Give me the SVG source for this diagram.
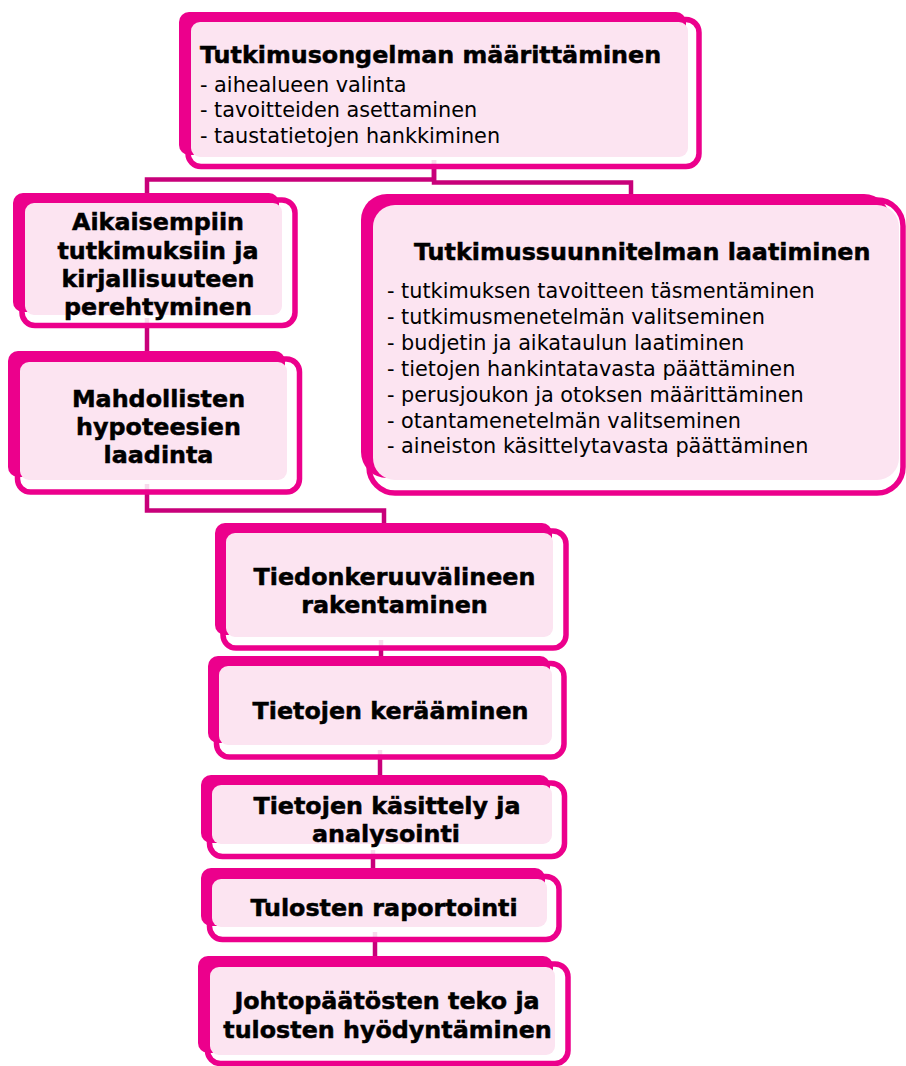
<svg xmlns="http://www.w3.org/2000/svg" width="906" height="1066" viewBox="0 0 906 1066">
<style>
.ol{fill:#ffffff;fill-opacity:0.86;stroke:#EC008C;stroke-width:5.5}
.bk{fill:#EC008C}
.pk{fill:#FCE4F1}
.cn{fill:none;stroke:#C8007A;stroke-width:4.5}
.b{font-family:"DejaVu Sans",Verdana,sans-serif;font-weight:bold;font-size:23.8px;fill:#000;stroke:#000;stroke-width:0.5}
.bc{font-family:"DejaVu Sans",Verdana,sans-serif;font-weight:bold;font-size:23.8px;fill:#000;stroke:#000;stroke-width:0.5;text-anchor:middle}
.r{font-family:"DejaVu Sans",Verdana,sans-serif;font-size:20.8px;fill:#000}
</style>
<rect width="906" height="1066" fill="#ffffff"/>
<g id="connectors">
<path class="cn" d="M434,160 V179.5 H147 V196"/>
<path class="cn" d="M434,160 V182.5 H631 V198"/>
<path class="cn" d="M147,318 V354"/>
<path class="cn" d="M147,484 V510.5 H384 V526"/>
<path class="cn" d="M381,640 V658"/>
<path class="cn" d="M380,750 V778"/>
<path class="cn" d="M373,850 V870"/>
<path class="cn" d="M375,932 V958"/>
</g>
<g id="n1">
<rect class="ol" x="188" y="19.5" width="511" height="147" rx="13"/>
<rect class="bk" x="179" y="12" width="507" height="143" rx="10"/>
<rect class="pk" x="191" y="22" width="497" height="135" rx="9"/>
<text class="b" x="200" y="63">Tutkimusongelman määrittäminen</text>
<text class="r" x="200" y="91.5">- aihealueen valinta</text>
<text class="r" x="200" y="117">- tavoitteiden asettaminen</text>
<text class="r" x="200" y="142.5">- taustatietojen hankkiminen</text>
</g>
<g id="n2">
<rect class="ol" x="22" y="200" width="273" height="125.5" rx="13"/>
<rect class="bk" x="13" y="193" width="266" height="119" rx="10"/>
<rect class="pk" x="25" y="203" width="257" height="112" rx="9"/>
<text class="bc" x="158" y="230">Aikaisempiin</text>
<text class="bc" x="158" y="258.5">tutkimuksiin ja</text>
<text class="bc" x="158" y="287">kirjallisuuteen</text>
<text class="bc" x="158" y="315">perehtyminen</text>
</g>
<g id="n3">
<rect class="ol" x="17.5" y="359" width="282" height="133" rx="13"/>
<rect class="bk" x="8" y="351" width="277" height="126" rx="10"/>
<rect class="pk" x="20" y="362" width="267" height="118" rx="9"/>
<text class="bc" x="158.5" y="406.7">Mahdollisten</text>
<text class="bc" x="158.5" y="435">hypoteesien</text>
<text class="bc" x="158.5" y="463">laadinta</text>
</g>
<g id="n4">
<rect class="ol" x="369" y="200" width="534" height="293" rx="26"/>
<rect class="bk" x="361" y="194" width="529" height="284" rx="26"/>
<rect class="pk" x="373" y="205" width="526" height="275" rx="22"/>
<text class="b" x="414" y="260">Tutkimussuunnitelman laatiminen</text>
<text class="r" x="387" y="298">- tutkimuksen tavoitteen täsmentäminen</text>
<text class="r" x="387" y="324">- tutkimusmenetelmän valitseminen</text>
<text class="r" x="387" y="350">- budjetin ja aikataulun laatiminen</text>
<text class="r" x="387" y="376">- tietojen hankintatavasta päättäminen</text>
<text class="r" x="387" y="402">- perusjoukon ja otoksen määrittäminen</text>
<text class="r" x="387" y="427.5">- otantamenetelmän valitseminen</text>
<text class="r" x="387" y="453">- aineiston käsittelytavasta päättäminen</text>
</g>
<g id="n5">
<rect class="ol" x="223" y="531" width="343" height="117" rx="13"/>
<rect class="bk" x="215" y="523" width="337" height="112" rx="10"/>
<rect class="pk" x="226" y="533" width="327" height="104" rx="9"/>
<text class="bc" x="394.5" y="585">Tiedonkeruuvälineen</text>
<text class="bc" x="394.5" y="613">rakentaminen</text>
</g>
<g id="n6">
<rect class="ol" x="216.5" y="663.5" width="347.5" height="93.5" rx="13"/>
<rect class="bk" x="208" y="656" width="342" height="87" rx="10"/>
<rect class="pk" x="219" y="666" width="333" height="79" rx="9"/>
<text class="bc" x="390.5" y="719">Tietojen kerääminen</text>
</g>
<g id="n7">
<rect class="ol" x="209.5" y="783" width="355" height="73.5" rx="13"/>
<rect class="bk" x="201" y="775" width="349" height="68" rx="10"/>
<rect class="pk" x="212" y="785" width="340" height="59" rx="9"/>
<text class="bc" x="387" y="814">Tietojen käsittely ja</text>
<text class="bc" x="386" y="841.7">analysointi</text>
</g>
<g id="n8">
<rect class="ol" x="209.5" y="876.5" width="349.5" height="63" rx="13"/>
<rect class="bk" x="201" y="868" width="344" height="58" rx="10"/>
<rect class="pk" x="212" y="879" width="335" height="48" rx="9"/>
<text class="bc" x="384" y="916">Tulosten raportointi</text>
</g>
<g id="n9">
<rect class="ol" x="207.5" y="964" width="360.5" height="99.5" rx="13"/>
<rect class="bk" x="198" y="956" width="355" height="97" rx="10"/>
<rect class="pk" x="210" y="967" width="345" height="88" rx="9"/>
<text class="bc" x="387" y="1009">Johtopäätösten teko ja</text>
<text class="bc" x="387.5" y="1038">tulosten hyödyntäminen</text>
</g>
</svg>
